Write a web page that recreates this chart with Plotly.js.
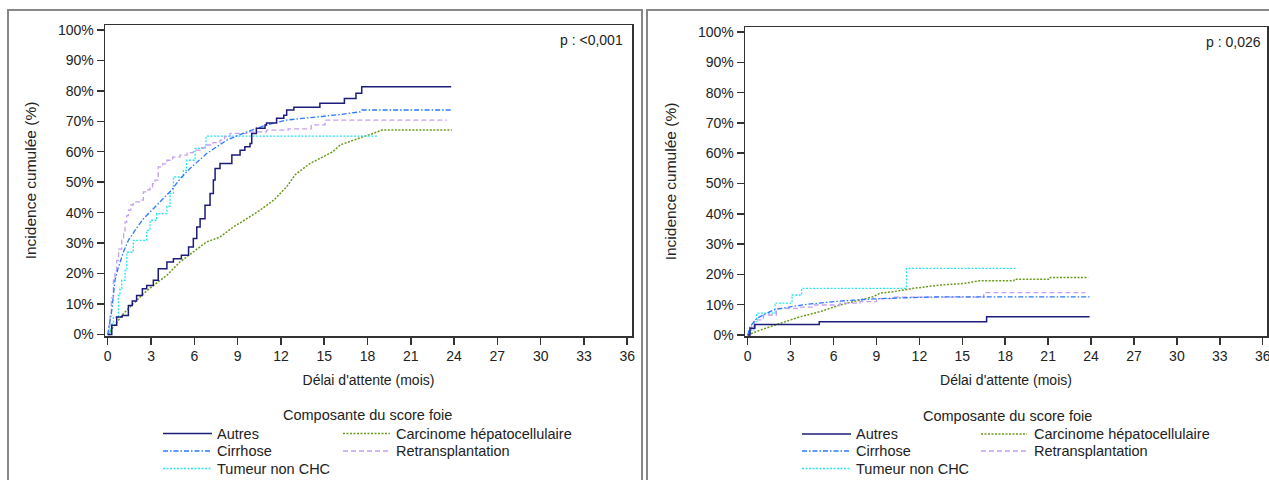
<!DOCTYPE html>
<html>
<head>
<meta charset="utf-8">
<script src="https://cdn.plot.ly/plotly-3.0.1.min.js"></script>
<style>html,body{margin:0;padding:0;background:#fff;}#chart{width:1269px;height:480px;}</style>
</head>
<body>
<div id="chart"></div>
<script>
// ---------- Data ----------
const seriesNames = ["Autres", "Carcinome hépatocellulaire", "Cirrhose", "Retransplantation", "Tumeur non CHC"];
const xTicks = [0, 3, 6, 9, 12, 15, 18, 21, 24, 27, 30, 33, 36];
const yTicks = [0, 10, 20, 30, 40, 50, 60, 70, 80, 90, 100];
const pLeft = "p : <0,001";
const pRight = "p : 0,026";
const xTitle = "Délai d'attente (mois)";
const yTitle = "Incidence cumulée (%)";
const legendTitle = "Composante du score foie";

// Left panel
const L_autres_t = [0, 0.28, 0.62, 1.0, 1.43, 1.7, 2.0, 2.4, 2.7, 3.16, 3.5, 4.1, 4.55, 5.1, 5.6, 5.93, 6.17, 6.4, 6.74, 7.09, 7.32, 7.44, 7.78, 8.6, 9.17, 9.5, 9.86, 9.98, 10.3, 10.9, 11.0, 11.7, 12.2, 12.4, 12.9, 14.7, 16.4, 17.2, 17.6, 23.8];
const L_autres_v = [0, 3, 5.7, 6.2, 9.5, 11, 12.8, 15, 16.1, 17.8, 21.6, 23.8, 24.9, 26, 28.7, 31.5, 35.3, 38, 42.4, 46.3, 50.7, 54.5, 56.1, 58.9, 60.5, 61.6, 62.7, 66, 67.7, 68.8, 69.4, 71, 72, 73.7, 74.6, 75.9, 77.5, 79.2, 81.3, 81.3];

const L_chc_t = [0, 0.39, 1.08, 1.77, 2.47, 3.16, 4.09, 5.0, 5.93, 6.86, 7.78, 8.7, 9.63, 10.55, 11.5, 12.4, 13.0, 14.0, 14.7, 15.6, 16.1, 17.0, 17.7, 18.4, 19.0, 23.84];
const L_chc_v = [0, 2.4, 6.8, 10.1, 13.4, 16.1, 19.4, 23.8, 27, 30.4, 32, 35.3, 38, 40.8, 44.1, 48.5, 52.5, 56.1, 57.8, 60, 62.2, 63.8, 64.9, 66, 67.1, 67.1];

const L_cirr_t = [0, 0.1, 0.28, 0.5, 0.74, 1.08, 1.43, 1.89, 2.47, 3.16, 3.85, 4.44, 5.0, 5.7, 6.86, 8.25, 9.63, 11.0, 12.4, 14.7, 16.1, 17.5, 17.6, 23.9];
const L_cirr_v = [0, 3, 7.9, 17.8, 22.1, 27, 30.9, 34.2, 38, 41.3, 44.6, 47.5, 51, 54.5, 59.4, 63.8, 66.5, 68.8, 70.4, 71.5, 72.2, 73.1, 73.7, 73.7];

const L_retx_t = [0, 0.08, 0.16, 0.25, 0.39, 0.5, 0.62, 0.75, 0.97, 1.1, 1.2, 1.32, 1.43, 1.6, 1.77, 2.2, 2.47, 2.7, 2.93, 3.1, 3.28, 3.5, 3.8, 4.1, 4.5, 5.0, 5.5, 5.93, 6.4, 6.86, 7.3, 7.78, 8.1, 8.48, 9.63, 11.0, 12.5, 14.1, 15.06, 23.5];
const L_retx_v = [0, 3, 6.8, 12, 17.8, 21, 24.3, 28, 31.5, 34, 36.9, 39, 40.8, 42.5, 43.5, 44.1, 46.8, 47.5, 48.5, 49.5, 50.7, 55, 56, 57.2, 58.2, 58.9, 59.7, 60.5, 61.3, 62.2, 63, 63.8, 65, 66, 66.5, 67.1, 67.5, 68.8, 70.4, 70.4];

const L_tum_t = [0, 0.16, 0.39, 0.74, 0.85, 0.97, 1.2, 1.32, 1.77, 2.7, 2.93, 3.39, 4.1, 4.32, 4.55, 5.24, 5.47, 6.05, 6.74, 6.81, 18.75];
const L_tum_v = [0, 3.5, 5.7, 12.8, 15, 17.8, 21, 27, 30.9, 34.2, 37.5, 39.7, 42.1, 46.3, 51.7, 53.9, 57.2, 61.1, 62.2, 65.1, 65.1];

// Right panel
const R_autres_t = [0, 0.16, 0.5, 5.0, 16.7, 23.9];
const R_autres_v = [0, 2.2, 3.5, 4.4, 6.0, 6.0];

const R_chc_t = [0, 0.89, 2.28, 3.65, 5.05, 6.45, 7.85, 8.78, 9.25, 10.2, 11.6, 13.45, 15.1, 16.2, 18.6, 18.65, 21.1, 21.15, 23.8];
const R_chc_v = [0, 1.65, 3.85, 6.0, 7.7, 9.9, 11.55, 12.65, 13.8, 14.3, 15.4, 16.5, 17.0, 17.9, 17.9, 18.4, 18.4, 19.0, 19.0];

const R_cirr_t = [0, 0.16, 0.63, 1.79, 2.96, 4.12, 6.45, 8.78, 11.1, 13.45, 23.9];
const R_cirr_v = [0, 2.7, 5.5, 8.25, 9.3, 10.1, 11.2, 11.9, 12.3, 12.6, 12.6];

const R_retx_t = [0, 0.1, 0.28, 0.45, 1.1, 2.0, 3.65, 4.6, 6.45, 7.85, 9.0, 10.2, 16.5, 23.6];
const R_retx_v = [0, 1.5, 3.3, 5.0, 6.6, 8.8, 9.2, 9.9, 10.5, 11.0, 12.0, 12.5, 14.0, 14.0];

const R_tum_t = [0, 0.16, 0.43, 0.63, 1.91, 3.1, 3.77, 11.1, 18.74];
const R_tum_v = [0, 1.6, 4.4, 7.2, 10.5, 13.2, 15.4, 22.0, 22.0];

// ---------- Styles ----------
const styles = {
  "Autres": {color: "#1c1c7a", dash: "solid", width: 1.5, shape: "hv"},
  "Carcinome hépatocellulaire": {color: "#6a9a1a", dash: "2px,1.5px", width: 1.5, shape: "linear"},
  "Cirrhose": {color: "#2a78ff", dash: "5px,2px,1.5px,2px", width: 1.3, shape: "linear"},
  "Retransplantation": {color: "#c39ef2", dash: "5px,3px", width: 1.3, shape: "hv"},
  "Tumeur non CHC": {color: "#27e6ee", dash: "2px,1.5px", width: 1.3, shape: "hv"}
};

function tr(name, t, v, xa, ya) {
  const s = styles[name];
  return {x: t, y: v, type: "scatter", mode: "lines", name: name, xaxis: xa, yaxis: ya,
    showlegend: false, hoverinfo: "skip", cliponaxis: false,
    line: {color: s.color, dash: s.dash, width: s.width, shape: s.shape}};
}

const data = [
  tr("Carcinome hépatocellulaire", L_chc_t, L_chc_v, "x", "y"),
  tr("Tumeur non CHC", L_tum_t, L_tum_v, "x", "y"),
  tr("Retransplantation", L_retx_t, L_retx_v, "x", "y"),
  tr("Cirrhose", L_cirr_t, L_cirr_v, "x", "y"),
  tr("Autres", L_autres_t, L_autres_v, "x", "y"),
  tr("Carcinome hépatocellulaire", R_chc_t, R_chc_v, "x2", "y2"),
  tr("Tumeur non CHC", R_tum_t, R_tum_v, "x2", "y2"),
  tr("Retransplantation", R_retx_t, R_retx_v, "x2", "y2"),
  tr("Cirrhose", R_cirr_t, R_cirr_v, "x2", "y2"),
  tr("Autres", R_autres_t, R_autres_v, "x2", "y2")
];

// ---------- Layout ----------
const W = 1269, H = 480;
const px = v => v / W;
const py = v => (H - v) / H;
const FONT = "Liberation Sans, Arial, Helvetica, sans-serif";

function xaxisDef(domain, range) {
  return {domain: domain, range: range, tickmode: "array", tickvals: xTicks, ticktext: xTicks.map(String),
    ticks: "outside", ticklen: 7, tickwidth: 1.5, tickcolor: "#333",
    showline: true, mirror: true, linecolor: "#333", linewidth: 1.5,
    showgrid: false, zeroline: false, fixedrange: true, ticklabeloverflow: "allow",
    tickfont: {family: FONT, size: 14, color: "#222"},
    title: {text: xTitle, font: {family: FONT, size: 14, color: "#222"}, standoff: 12}};
}
function yaxisDef(domain, range, anchor) {
  return {domain: domain, range: range, anchor: anchor, tickmode: "array", tickvals: yTicks, ticktext: yTicks.map(v => v + "%"),
    ticks: "outside", ticklen: 7, tickwidth: 1.5, tickcolor: "#333",
    showline: true, mirror: true, linecolor: "#333", linewidth: 1.5,
    showgrid: false, zeroline: false, fixedrange: true,
    tickfont: {family: FONT, size: 14, color: "#222"},
    title: {text: yTitle, font: {family: FONT, size: 15.5, color: "#222"}, standoff: 17}};
}

const shapes = [
  {type: "rect", xref: "paper", yref: "paper", x0: px(8), x1: px(642), y0: -0.05, y1: py(10), line: {color: "#888", width: 2}, layer: "below"},
  {type: "rect", xref: "paper", yref: "paper", x0: px(647), x1: px(1275), y0: -0.05, y1: py(10), line: {color: "#888", width: 2}, layer: "below"}
];
const annotations = [
  {xref: "paper", yref: "paper", x: px(625), y: py(40), xanchor: "right", yanchor: "middle", text: pLeft, showarrow: false, font: {family: FONT, size: 14, color: "#222"}},
  {xref: "paper", yref: "paper", x: px(1263), y: py(42), xanchor: "right", yanchor: "middle", text: pRight, showarrow: false, font: {family: FONT, size: 14, color: "#222"}}
];

// Manual legends (two columns) for each panel
function addLegend(titleX, titleY, col1Line, col1Text, col2Line, col2Text, rows) {
  annotations.push({xref: "paper", yref: "paper", x: px(titleX), y: py(titleY), xanchor: "center", yanchor: "middle",
    text: legendTitle, showarrow: false, font: {family: FONT, size: 14.5, color: "#222"}});
  const items = [
    [seriesNames[0], 0, 0], [seriesNames[1], 1, 0],
    [seriesNames[2], 0, 1], [seriesNames[3], 1, 1],
    [seriesNames[4], 0, 2]
  ];
  items.forEach(([name, col, row]) => {
    const s = styles[name];
    const ln = col === 0 ? col1Line : col2Line;
    const tx = col === 0 ? col1Text : col2Text;
    const yy = rows[row];
    shapes.push({type: "line", xref: "paper", yref: "paper", x0: px(ln[0]), x1: px(ln[1]), y0: py(yy), y1: py(yy),
      line: {color: s.color, dash: s.dash, width: s.width}});
    annotations.push({xref: "paper", yref: "paper", x: px(tx), y: py(yy), xanchor: "left", yanchor: "middle",
      text: name, showarrow: false, font: {family: FONT, size: 14.5, color: "#222"}});
  });
}
addLegend(368, 415, [163, 212], 215, [343, 390], 394, [433.5, 451, 468.5]);
addLegend(1007, 416, [802, 851], 854, [981, 1027], 1032, [434, 451, 468.5]);

const layout = {
  width: W, height: H,
  margin: {l: 0, r: 0, t: 0, b: 0},
  paper_bgcolor: "#fff", plot_bgcolor: "#fff",
  showlegend: false,
  font: {family: FONT, color: "#222"},
  xaxis: xaxisDef([px(105), px(632)], [-0.19, 36.33]),
  yaxis: yaxisDef([py(336), py(25)], [-0.5, 101.6], "x"),
  xaxis2: Object.assign(xaxisDef([px(745), px(1267)], [-0.19, 36.3]), {anchor: "y2"}),
  yaxis2: yaxisDef([py(336), py(27)], [-0.33, 101.65], "x2"),
  shapes: shapes,
  annotations: annotations
};

Plotly.newPlot("chart", data, layout, {staticPlot: true, displayModeBar: false});
</script>
</body>
</html>
